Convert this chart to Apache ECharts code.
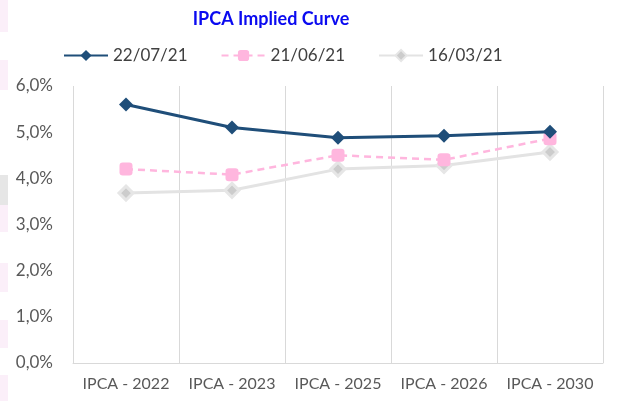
<!DOCTYPE html>
<html>
<head>
<meta charset="utf-8">
<script src="https://cdn.jsdelivr.net/npm/echarts@6/dist/echarts.min.js"></script>
<style>
html,body{margin:0;padding:0;background:#fff;}
#chart{width:625px;height:401px;}
</style>
</head>
<body>
<div id="chart"></div>
<script>
const title = 'IPCA Implied Curve';
const categories = ['IPCA - 2022', 'IPCA - 2023', 'IPCA - 2025', 'IPCA - 2026', 'IPCA - 2030'];
const seriesNames = ['22/07/21', '21/06/21', '16/03/21'];
const s220721 = [5.60, 5.10, 4.88, 4.92, 5.01];
const s210621 = [4.20, 4.08, 4.50, 4.40, 4.86];
const s160321 = [3.68, 3.74, 4.20, 4.28, 4.57];
const yTicks = [0, 1, 2, 3, 4, 5, 6];

const chart = echarts.init(document.getElementById('chart'), null, {renderer: 'canvas'});
const font = 'Lato, "Open Sans", sans-serif';

const strips = [
  [0, 32, '#FBEFF9'], [60, 30, '#FBEFF9'], [175, 30, '#E6E6E6'], [205, 27, '#FBEFF9'],
  [263, 29, '#FBEFF9'], [320, 28, '#FBEFF9'], [375, 26, '#FBEFF9']
];

chart.setOption({
  animation: false,
  backgroundColor: '#ffffff',
  title: {
    text: title,
    left: 266, top: 5,
    textAlign: 'center',
    textStyle: {color: '#0A0AF0', fontSize: 18, fontWeight: 'bold', fontFamily: font}
  },
  legend: {
    top: 42, left: 58,
    itemWidth: 44, itemHeight: 14, itemGap: 33,
    textStyle: {color: '#404040', fontSize: 17, fontFamily: font},
    data: seriesNames
  },
  graphic: strips.map(s => ({type: 'rect', left: 0, top: s[0], shape: {width: 8, height: s[1]}, style: {fill: s[2]}, silent: true})),
  grid: {left: 73, right: 22, top: 86, bottom: 38, containLabel: false},
  xAxis: {
    type: 'category',
    data: categories,
    boundaryGap: true,
    axisLine: {show: true, lineStyle: {color: '#D9D9D9', width: 1}},
    axisTick: {show: false},
    splitLine: {show: true, lineStyle: {color: '#D9D9D9', width: 1}},
    axisLabel: {interval: 0, color: '#595959', fontSize: 16, fontFamily: font, margin: 13}
  },
  yAxis: {
    type: 'value',
    min: yTicks[0], max: yTicks[yTicks.length - 1], interval: 1,
    axisLine: {show: false},
    axisTick: {show: false},
    splitLine: {show: false},
    axisLabel: {
      color: '#595959', fontSize: 17, fontFamily: font, margin: 20,
      formatter: v => v.toFixed(1).replace('.', ',') + '%'
    }
  },
  series: [
    {
      name: seriesNames[2], type: 'line', data: s160321, z: 1,
      symbol: 'diamond', symbolSize: 14,
      lineStyle: {color: '#E3E3E3', width: 3},
      itemStyle: {color: '#CCCCCC', borderColor: '#E6E6E6', borderWidth: 3}
    },
    {
      name: seriesNames[1], type: 'line', data: s210621, z: 2,
      symbol: 'roundRect', symbolSize: 13,
      lineStyle: {color: '#FFB6DE', width: 2.5, type: [7, 5]},
      itemStyle: {color: '#FFB6DE'}
    },
    {
      name: seriesNames[0], type: 'line', data: s220721, z: 3,
      symbol: 'diamond', symbolSize: 14,
      lineStyle: {color: '#1F4E79', width: 3},
      itemStyle: {color: '#1F4E79'}
    }
  ]
});
</script>
</body>
</html>
